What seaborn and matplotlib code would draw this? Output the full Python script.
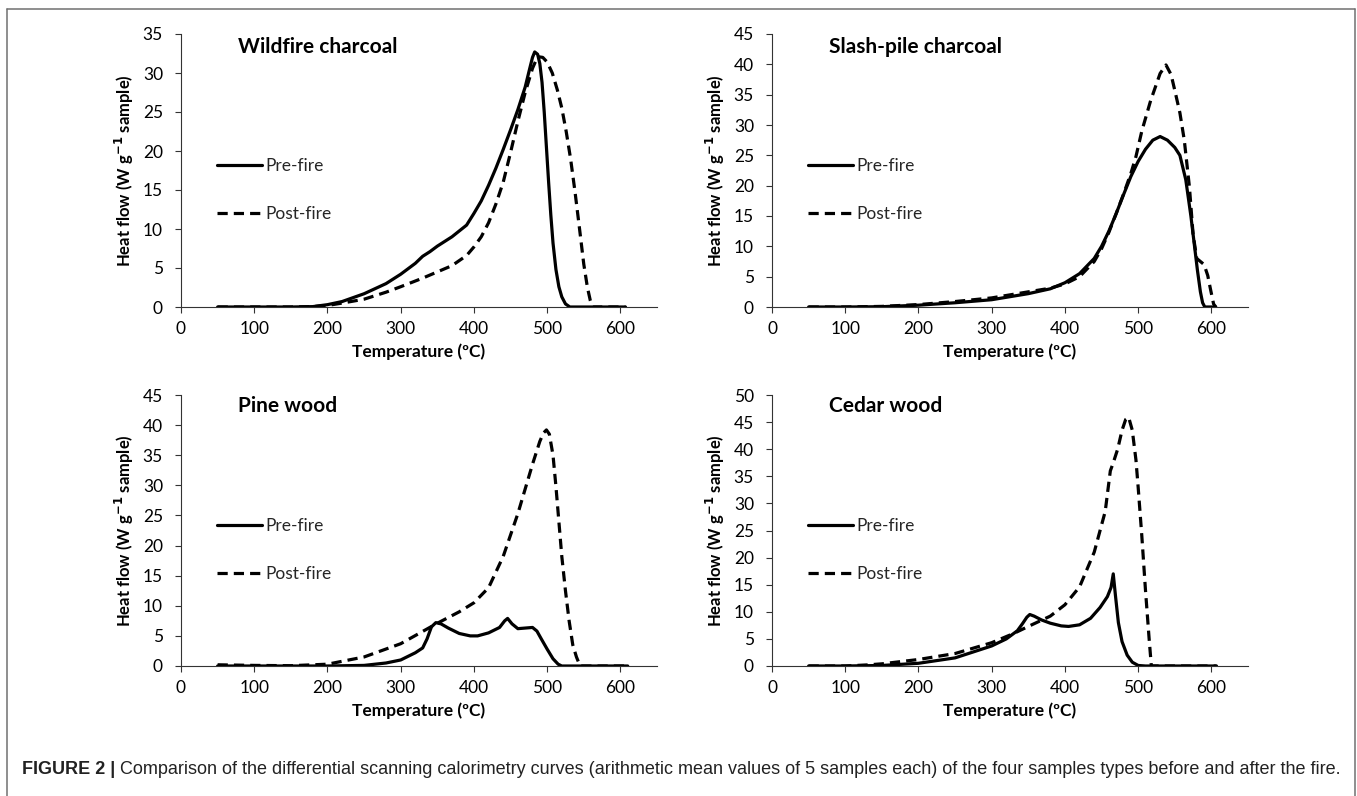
import numpy as np
import pandas as pd
import matplotlib
matplotlib.use("Agg")
import matplotlib.pyplot as plt
import seaborn as sns
from matplotlib.lines import Line2D

# ---------------- data ----------------
panel_titles = ["Wildfire charcoal", "Slash-pile charcoal", "Pine wood", "Cedar wood"]
series_names = ["Pre-fire", "Post-fire"]
x_ticks = [0, 100, 200, 300, 400, 500, 600]
y_maxes = [35, 45, 45, 50]

wild_pre_T = [50, 100, 150, 180, 200, 220, 250, 280, 300, 320, 330, 340, 350, 370, 390, 400, 410, 420,
              430, 440, 450, 460, 470, 476, 480, 483, 487, 490, 493, 496, 499, 502, 505, 508, 512, 516,
              520, 525, 531, 560, 607]
wild_pre_V = [0, 0, 0, 0.05, 0.3, 0.7, 1.7, 3.0, 4.2, 5.6, 6.5, 7.1, 7.8, 9.0, 10.5, 12.0, 13.6, 15.6,
              17.8, 20.2, 22.7, 25.3, 28.2, 30.5, 32.0, 32.7, 32.4, 31.2, 28.8, 25.0, 20.5, 16.0, 11.8, 8.2, 4.8, 2.6,
              1.3, 0.4, 0, 0, 0]
wild_post_T = [50, 100, 150, 180, 200, 220, 250, 280, 300, 330, 350, 370, 390, 400, 410, 420, 430, 440,
               450, 460, 470, 480, 487, 494, 500, 507, 514, 520, 526, 532, 538, 544, 550, 555, 559, 562, 607]
wild_post_V = [0, 0, 0, 0.05, 0.2, 0.5, 1.0, 1.9, 2.6, 3.7, 4.5, 5.3, 6.6, 7.7, 9.0, 10.8, 13.2, 16.0,
               19.8, 23.8, 27.5, 30.6, 32.1, 32.0, 31.4, 30.0, 27.8, 25.5, 22.5, 19.0, 14.8, 10.2, 5.5, 2.5, 0.8, 0, 0]

slash_pre_T = [50, 100, 150, 200, 250, 300, 350, 380, 400, 420, 440, 450, 460, 470, 480, 490, 500, 510,
               520, 530, 540, 550, 557, 565, 572, 577, 581, 585, 588, 591, 606]
slash_pre_V = [0, 0, 0.05, 0.3, 0.7, 1.2, 2.2, 3.0, 4.0, 5.5, 8.0, 10.0, 12.5, 15.4, 18.5, 21.5, 24.0, 26.0,
               27.5, 28.1, 27.5, 26.3, 25.0, 21.0, 15.0, 10.0, 6.0, 2.5, 0.7, 0, 0]
slash_post_T = [50, 100, 150, 200, 250, 300, 350, 380, 400, 420, 440, 450, 460, 470, 480, 490, 497, 505,
                517, 530, 538, 545, 551, 557, 563, 570, 575, 580, 585, 590, 595, 599, 603, 606]
slash_post_V = [0, 0, 0.1, 0.4, 0.9, 1.5, 2.5, 3.1, 3.8, 5.0, 7.5, 9.6, 12.3, 15.4, 18.6, 22.0, 24.8, 29.0,
                34.0, 38.5, 39.9, 38.3, 35.2, 32.0, 27.5, 19.8, 12.0, 8.0, 7.5, 7.0, 5.2, 2.8, 0.5, 0]

pine_pre_T = [50, 100, 150, 200, 250, 280, 300, 320, 330, 336, 342, 348, 355, 365, 380, 395, 405, 420,
              435, 442, 446, 452, 460, 470, 480, 486, 492, 500, 508, 515, 520, 610]
pine_pre_V = [0, 0, 0, 0, 0.1, 0.5, 1.0, 2.2, 3.0, 4.5, 6.5, 7.2, 7.0, 6.3, 5.4, 5.0, 5.0, 5.5,
              6.4, 7.5, 7.9, 7.0, 6.2, 6.3, 6.4, 5.8, 4.5, 2.8, 1.2, 0.3, 0, 0]
pine_post_T = [50, 100, 150, 200, 250, 300, 350, 380, 400, 420, 440, 460, 480, 490, 495, 499, 503, 508,
               512, 516, 520, 525, 530, 535, 540, 545, 610]
pine_post_V = [0.2, 0.1, 0.05, 0.3, 1.5, 3.7, 7.1, 9.0, 10.5, 13.0, 18.2, 25.3, 33.5, 37.3, 38.7, 39.2, 38.5, 35.0,
               29.8, 24.0, 18.2, 12.5, 7.5, 3.5, 1.5, 0, 0]

cedar_pre_T = [50, 100, 150, 200, 250, 300, 320, 335, 342, 348, 352, 358, 368, 380, 395, 405, 420, 435,
               448, 458, 463, 466, 469, 473, 478, 485, 492, 500, 510, 607]
cedar_pre_V = [0, 0, 0.1, 0.5, 1.5, 3.7, 5.0, 6.5, 7.8, 9.0, 9.5, 9.2, 8.5, 7.9, 7.4, 7.3, 7.6, 8.8,
               10.8, 12.8, 14.5, 17.0, 13.0, 8.0, 4.5, 2.0, 0.7, 0.1, 0, 0]
cedar_post_T = [50, 100, 130, 150, 200, 250, 300, 330, 350, 380, 400, 420, 440, 455, 462, 466, 472, 478,
                483, 487, 492, 497, 500, 505, 510, 515, 518, 607]
cedar_post_V = [0, 0, 0.2, 0.4, 1.2, 2.3, 4.3, 6.0, 7.3, 9.2, 11.3, 14.6, 21.0, 28.5, 36.0, 37.5, 40.0, 43.5,
                45.5, 45.9, 43.5, 38.0, 33.0, 24.0, 14.0, 5.0, 0, 0]

panel_data = [
    ((wild_pre_T, wild_pre_V), (wild_post_T, wild_post_V)),
    ((slash_pre_T, slash_pre_V), (slash_post_T, slash_post_V)),
    ((pine_pre_T, pine_pre_V), (pine_post_T, pine_post_V)),
    ((cedar_pre_T, cedar_pre_V), (cedar_post_T, cedar_post_V)),
]

caption_bold = "FIGURE 2 |"
caption_text = (" Comparison of the differential scanning calorimetry curves (arithmetic mean values of "
                "5 samples each) of the four samples types before and after the fire.")

# ---------------- style ----------------
sns.set_theme(style="white")
plt.rcParams["font.family"] = ["Lato", "DejaVu Sans"]
plt.rcParams["axes.linewidth"] = 0.8

W, H = 1357, 796
fig = plt.figure(figsize=(W / 100, H / 100), dpi=100)

# axes boxes in pixels: (left, right, top(ymax), bottom(0))
boxes = [(181, 657, 34, 307), (772, 1248, 34, 307), (181, 657, 395, 666), (772, 1248, 395, 666)]
title_y = [0.952, 0.952, 0.959, 0.959]
legend_y = [0.428, 0.428, 0.428, 0.428]

for i, (l, r, t, b) in enumerate(boxes):
    ax = fig.add_axes([l / W, 1 - b / H, (r - l) / W, (b - t) / H])
    (preT, preV), (postT, postV) = panel_data[i]
    df = pd.concat([
        pd.DataFrame({"T": preT, "V": preV, "Series": series_names[0]}),
        pd.DataFrame({"T": postT, "V": postV, "Series": series_names[1]}),
    ], ignore_index=True)
    sns.lineplot(data=df, x="T", y="V", style="Series", hue="Series",
                 palette={series_names[0]: "black", series_names[1]: "black"},
                 dashes={series_names[0]: "", series_names[1]: (3.2, 1.9)},
                 linewidth=2.3, estimator=None, sort=False, ax=ax, legend=False)
    ax.set_xlim(0, 650)
    ax.set_ylim(0, y_maxes[i])
    ax.set_xticks(x_ticks)
    ax.set_yticks(np.arange(0, y_maxes[i] + 1, 5))
    for s in ["top", "right"]:
        ax.spines[s].set_visible(False)
    for s in ["left", "bottom"]:
        ax.spines[s].set_color("#333333")
        ax.spines[s].set_linewidth(0.8)
    ax.tick_params(axis="both", which="major", direction="out", length=4, width=0.8,
                   color="#333333", labelsize=12.5, labelcolor="black")
    ax.tick_params(axis="y", pad=9, left=True)
    ax.tick_params(axis="x", pad=6, bottom=True)
    ax.set_xlabel("Temperature (ºC)", fontsize=12.5, fontweight="bold", color="black")
    ax.set_ylabel("Heat flow (W g$^{\\mathbf{-1}}$ sample)", fontsize=12, fontweight="bold", color="black")
    ax.xaxis.set_label_coords(0.5, -0.135)
    ax.yaxis.set_label_coords(-0.095, 0.5)
    ax.text(0.12, title_y[i], panel_titles[i], transform=ax.transAxes, fontsize=15,
            fontweight="bold", ha="left", va="center", color="black")
    handles = [Line2D([], [], color="black", lw=2.3),
               Line2D([], [], color="black", lw=2.3, dashes=(3.2, 1.9))]
    ax.legend(handles, series_names, loc="center left", bbox_to_anchor=(0.075, legend_y[i]),
              frameon=False, fontsize=12.5, handlelength=2.6, handletextpad=0.2,
              labelspacing=1.85, borderpad=0, borderaxespad=0)
    ax.patch.set_alpha(0)

# outer frame (left, top, right edges)
frame_col = "#707070"
fig.add_artist(Line2D([7 / W, 7 / W], [0, 1 - 9 / H], color=frame_col, lw=1.1))
fig.add_artist(Line2D([1355 / W, 1355 / W], [0, 1 - 9 / H], color=frame_col, lw=1.1))
fig.add_artist(Line2D([7 / W, 1355 / W], [1 - 9 / H, 1 - 9 / H], color=frame_col, lw=1.1))

# caption, fitted to width
cap_family = ["Liberation Sans", "DejaVu Sans"]
x0, x1, ycap = 22, 1347, 770
renderer = fig.canvas.get_renderer()
fs = 12.0
t1 = fig.text(x0 / W, 1 - ycap / H, caption_bold, fontsize=fs, fontweight="bold",
              family=cap_family, va="center", ha="left", color="#222222")
t2 = fig.text(0, 1 - ycap / H, caption_text, fontsize=fs, family=cap_family,
              va="center", ha="left", color="#222222")
w1 = t1.get_window_extent(renderer).width
w2 = t2.get_window_extent(renderer).width
fs = fs * (x1 - x0) / (w1 + w2)
t1.set_fontsize(fs)
t2.set_fontsize(fs)
w1 = t1.get_window_extent(renderer).width
t2.set_x((x0 + w1) / W)

fig.savefig("out.png", dpi=100, facecolor="white")
